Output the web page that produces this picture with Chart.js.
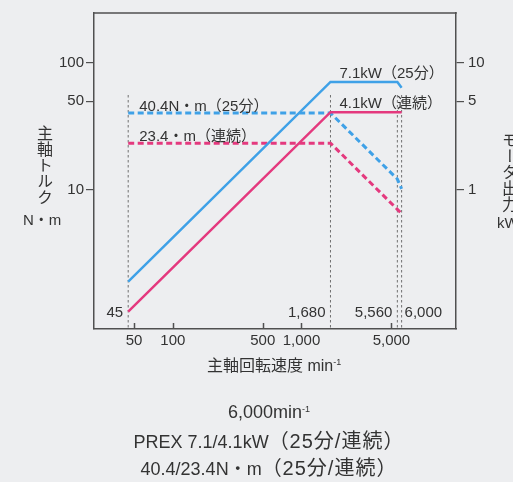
<!DOCTYPE html>
<html lang="ja">
<head>
<meta charset="utf-8">
<title>主軸トルク・出力線図</title>
<script src="https://cdn.jsdelivr.net/npm/chart.js@4.4.1/dist/chart.umd.min.js"></script>
<style>
  html, body { margin: 0; padding: 0; background: #edeef0; }
  #wrap { position: relative; width: 513px; height: 482px; overflow: hidden;
          font-family: "Liberation Sans", "Noto Sans CJK JP", sans-serif; color: #333; }
  #wrap canvas { position: absolute; left: 0; top: 0; }
  .vt { position: absolute; writing-mode: vertical-rl; text-orientation: upright;
        font-size: 16px; line-height: 16px; }
  .lbl { position: absolute; font-size: 15px; line-height: 15px; white-space: nowrap; }
  .cap { position: absolute; left: 0; width: 538px; text-align: center; font-size: 18px;
         line-height: 20px; white-space: nowrap; }
  .cap .jp { font-size: 20px; letter-spacing: 1px; }
  sup { font-size: 9px; vertical-align: 6px; line-height: 0; }
</style>
</head>
<body>
<div id="wrap">
  <canvas id="chart" width="513" height="482"></canvas>
  <div class="vt" style="left:35px; top:125px;">主軸トルク</div>
  <div class="lbl" style="left:23px; top:212px;">N・m</div>
  <div class="vt" style="left:500px; top:132px;">モータ出力</div>
  <div class="lbl" style="left:497px; top:215px;">kW</div>
  <div class="lbl" style="left:207px; top:358px; font-size:16px;">主軸回転速度 min<sup>-1</sup></div>
  <div class="cap" style="top:402px;">6,000min<sup>-1</sup></div>
  <div class="cap" style="top:431px;">PREX 7.1/4.1kW<span class="jp">（25分/連続）</span></div>
  <div class="cap" style="top:458px;">40.4/23.4N・m<span class="jp">（25分/連続）</span></div>
</div>
<script>
// spindle speed breakpoints (min-1)
const speed = [45, 1680, 5560, 6000];
// torque, N·m
const torque25min = [40.4, 40.4, 12.2, 10.2];
const torqueCont = [23.4, 23.4, 7.04, 6.53];
// motor output, kW
const power25min = [0.19, 7.1, 7.1, 6.4];
const powerCont = [0.11, 4.1, 4.1, 4.1];

// vertical reference lines
const markerSpeeds = [45, 1680, 5560, 6000];
const markerLabels = ['45', '1,680', '5,560', '6,000'];
const markerTop = 56;

const speedTicks = [50, 100, 500, 1000, 5000];
const torqueTicks = [10, 50, 100];
const powerTicks = [1, 5, 10];

const BLUE = '#3fa1e7';
const PINK = '#e4397e';
const AXIS = '#505050';
const TEXT = '#333';
const FONT = '"Liberation Sans", "Noto Sans CJK JP", sans-serif';

const pts = (xs, ys) => xs.map((x, i) => ({ x: x, y: ys[i] }));

const datasets = [
  { data: pts(speed, power25min), yAxisID: 'y2', borderColor: BLUE, borderWidth: 2.5 },
  { data: pts(speed, powerCont), yAxisID: 'y2', borderColor: PINK, borderWidth: 2.5 },
  { data: pts(speed, torque25min), yAxisID: 'y', borderColor: BLUE, borderWidth: 3, borderDash: [6, 3.5] },
  { data: pts(speed, torqueCont), yAxisID: 'y', borderColor: PINK, borderWidth: 3, borderDash: [6, 3.5] }
];
markerSpeeds.forEach(s => {
  datasets.push({
    data: [{ x: s, y: markerTop }, { x: s, y: 0.5 }],
    yAxisID: 'y', borderColor: '#707070', borderWidth: 1, borderDash: [2.5, 2.5]
  });
});

// box top edge, inward x ticks and in-plot labels
const overlay = {
  id: 'overlay',
  afterDatasetsDraw(chart) {
    const { ctx, chartArea: a } = chart;
    const x = chart.scales.x, y = chart.scales.y, y2 = chart.scales.y2;
    ctx.save();
    ctx.strokeStyle = AXIS;
    ctx.lineWidth = 1.5;
    ctx.beginPath();
    ctx.moveTo(a.left - 0.75, a.top);
    ctx.lineTo(a.right + 0.75, a.top);
    speedTicks.forEach(v => {
      const px = Math.round(x.getPixelForValue(v)) + 0.5;
      ctx.moveTo(px, a.bottom);
      ctx.lineTo(px, a.bottom - 6);
    });
    ctx.stroke();

    ctx.fillStyle = TEXT;
    ctx.font = '15px ' + FONT;
    ctx.textBaseline = 'alphabetic';
    ctx.textAlign = 'left';
    const x45 = x.getPixelForValue(speed[0]);
    const x1680 = x.getPixelForValue(speed[1]);
    ctx.fillText('40.4N・m（25分）', x45 + 11, y.getPixelForValue(torque25min[0]) - 2);
    ctx.fillText('23.4・m（連続）', x45 + 11, y.getPixelForValue(torqueCont[0]) - 2);
    ctx.fillText('7.1kW（25分）', x1680 + 9, y2.getPixelForValue(power25min[1]) - 4);
    ctx.fillText('4.1kW（連続）', x1680 + 9, y2.getPixelForValue(powerCont[1]) - 4);

    const base = a.bottom - 12;
    markerSpeeds.forEach((s, i) => {
      const px = x.getPixelForValue(s);
      if (i === markerSpeeds.length - 1) {
        ctx.textAlign = 'left';
        ctx.fillText(markerLabels[i], px + 3, base);
      } else {
        ctx.textAlign = 'right';
        ctx.fillText(markerLabels[i], px - 5, base);
      }
    });
    ctx.restore();
  }
};

const tickFont = { family: FONT, size: 15 };

new Chart(document.getElementById('chart'), {
  type: 'scatter',
  data: { datasets: datasets },
  options: {
    responsive: false,
    animation: false,
    devicePixelRatio: 1,
    showLine: true,
    elements: { point: { radius: 0 }, line: { tension: 0, fill: false } },
    layout: { padding: { top: 13, left: 0, right: 0, bottom: 0 } },
    plugins: { legend: { display: false }, tooltip: { enabled: false } },
    scales: {
      x: {
        type: 'logarithmic', position: 'bottom', min: 24.4, max: 15880,
        afterBuildTicks: s => { s.ticks = speedTicks.map(v => ({ value: v })); },
        afterFit: s => { s.height = 153; },
        ticks: { callback: v => Number(v).toLocaleString('en-US'), font: tickFont, color: TEXT,
                 padding: 3, autoSkip: false, maxRotation: 0 },
        grid: { drawOnChartArea: false, drawTicks: false },
        border: { color: AXIS, width: 1.5 }
      },
      y: {
        type: 'logarithmic', position: 'left', min: 0.804, max: 247.8,
        afterBuildTicks: s => { s.ticks = torqueTicks.map(v => ({ value: v })); },
        afterFit: s => { s.width = 94; },
        ticks: { callback: v => String(v), font: tickFont, color: TEXT, padding: 2 },
        grid: { drawOnChartArea: false, tickLength: 8, color: AXIS, lineWidth: 1.2 },
        border: { color: AXIS, width: 1.5 }
      },
      y2: {
        type: 'logarithmic', position: 'right', min: 0.0804, max: 24.78,
        afterBuildTicks: s => { s.ticks = powerTicks.map(v => ({ value: v })); },
        afterFit: s => { s.width = 57; },
        ticks: { callback: v => String(v), font: tickFont, color: TEXT, padding: 4 },
        grid: { drawOnChartArea: false, tickLength: 8, color: AXIS, lineWidth: 1.2 },
        border: { color: AXIS, width: 1.5 }
      }
    }
  },
  plugins: [overlay]
});
</script>
</body>
</html>
